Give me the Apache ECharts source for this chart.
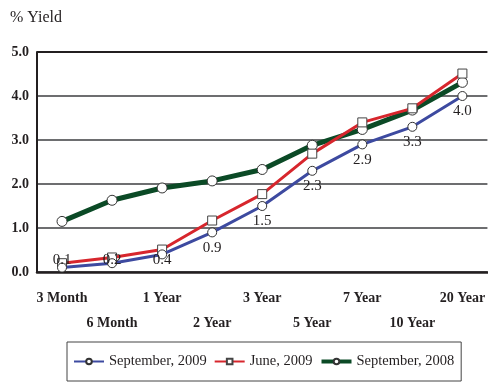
<!DOCTYPE html>
<html>
<head>
<meta charset="utf-8">
<script src="https://cdn.jsdelivr.net/npm/echarts@6/dist/echarts.min.js"></script>
<style>
  html, body { margin: 0; padding: 0; background: #fff; }
  #chart { width: 488px; height: 383px; }
</style>
</head>
<body>
<div id="chart"></div>
<script>
// Treasury yield curve by maturity
const maturities = ['3 Month', '6 Month', '1 Year', '2 Year', '3 Year', '5 Year', '7 Year', '10 Year', '20 Year'];
const sep2009 = [0.1, 0.2, 0.4, 0.9, 1.5, 2.3, 2.9, 3.3, 4.0];
const jun2009 = [0.2, 0.33, 0.51, 1.17, 1.77, 2.69, 3.4, 3.72, 4.51];
const sep2008 = [1.15, 1.63, 1.91, 2.07, 2.33, 2.88, 3.24, 3.68, 4.31];
const yTicks = [0, 1, 2, 3, 4, 5];

const serif = '"Liberation Serif", "Times New Roman", serif';
const ink = '#231f20';

const chart = echarts.init(document.getElementById('chart'), null, { renderer: 'canvas' });

chart.setOption({
  animation: false,
  backgroundColor: '#fff',
  title: {
    text: '% Yield',
    left: 5,
    top: 5,
    textStyle: { fontFamily: serif, fontSize: 16, fontWeight: 'normal', color: ink }
  },
  grid: { left: 37, top: 52, width: 453, height: 220 },
  legend: {
    left: 67,
    top: 342,
    padding: [12, 7, 12, 6],
    itemGap: 7,
    itemWidth: 30,
    itemHeight: 7,
    borderColor: '#444',
    borderWidth: 1,
    textStyle: { fontFamily: serif, fontSize: 14.5, color: ink },
    data: [
      { name: 'September, 2009' },
      { name: 'June, 2009' },
      { name: 'September, 2008', lineStyle: { width: 4 } }
    ]
  },
  xAxis: {
    type: 'category',
    data: maturities,
    boundaryGap: true,
    axisLine: { lineStyle: { color: ink, width: 2.5 } },
    axisTick: { show: false },
    axisLabel: {
      interval: 0,
      margin: 14,
      fontFamily: serif,
      fontSize: 14,
      fontWeight: 'bold',
      color: ink,
      lineHeight: 25,
      formatter: (v, i) => (i % 2 === 1 ? '\n' + v : v)
    }
  },
  yAxis: {
    type: 'value',
    min: yTicks[0],
    max: yTicks[yTicks.length - 1],
    interval: 1,
    axisLine: { show: true, lineStyle: { color: ink, width: 2 } },
    axisTick: { show: false },
    axisLabel: {
      margin: 8,
      fontFamily: serif,
      fontSize: 14,
      fontWeight: 'bold',
      color: ink,
      formatter: v => v.toFixed(1)
    },
    splitLine: {
      lineStyle: { color: ['#6d6e70', '#6d6e70', '#6d6e70', '#6d6e70', '#6d6e70', ink], width: 2 }
    }
  },
  series: [
    {
      name: 'September, 2008',
      type: 'line',
      data: sep2008,
      z: 3,
      color: '#0b4a26',
      lineStyle: { color: '#0b4a26', width: 5 },
      symbol: 'circle',
      symbolSize: 10,
      itemStyle: { color: '#fff', borderColor: '#333', borderWidth: 1 }
    },
    {
      name: 'June, 2009',
      type: 'line',
      data: jun2009,
      z: 4,
      color: '#d7262d',
      lineStyle: { color: '#d7262d', width: 3 },
      symbol: 'rect',
      symbolSize: 9,
      itemStyle: { color: '#fff', borderColor: '#444', borderWidth: 1 }
    },
    {
      name: 'September, 2009',
      type: 'line',
      data: sep2009,
      z: 5,
      color: '#3d4aa0',
      lineStyle: { color: '#3d4aa0', width: 3 },
      symbol: 'circle',
      symbolSize: 9,
      itemStyle: { color: '#fff', borderColor: '#333', borderWidth: 1 },
      label: {
        show: true,
        position: 'bottom',
        distance: 3,
        fontFamily: serif,
        fontSize: 15,
        color: ink,
        formatter: p => p.value.toFixed(1)
      }
    }
  ]
});

// Labels of points close to the floor would collide with the x axis:
// pin them just above the axis line instead.
const floorY = chart.convertToPixel({ yAxisIndex: 0 }, 0);
const labelled = sep2009.map((v, i) => {
  const py = chart.convertToPixel({ yAxisIndex: 0 }, v);
  if (floorY - py < 20) {
    return { value: v, label: { position: 'inside', offset: [0, floorY - 12 - py] } };
  }
  return { value: v };
});
chart.setOption({ series: [{}, {}, { data: labelled }] });
</script>
</body>
</html>
